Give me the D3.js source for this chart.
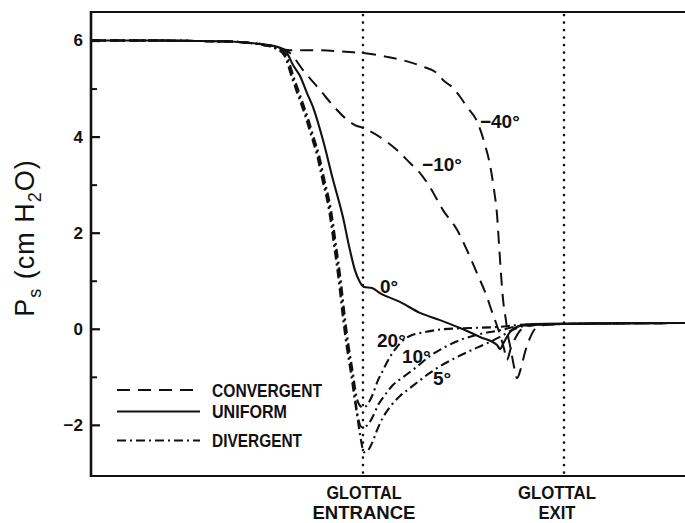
<!DOCTYPE html>
<html>
<head>
<meta charset="utf-8">
<script src="https://cdn.jsdelivr.net/npm/d3@7"></script>
<style>
  html, body { margin: 0; padding: 0; background: #fff; }
  svg { display: block; }
  text { font-family: "Liberation Sans", Arial, Helvetica, sans-serif; fill: #111; }
</style>
</head>
<body>
<svg id="chart" width="685" height="523"></svg>
<script>
// Axial position: 0 = glottal entrance, 1 = glottal exit. Pressure in cm H2O.
const majorTicks = [-2, 0, 2, 4, 6];
const minorTicks = [-1, 1, 3, 5];
const markerPositions = [0, 1];
const markerLabels = [["GLOTTAL", "ENTRANCE"], ["GLOTTAL", "EXIT"]];
const legendLabels = ["CONVERGENT", "UNIFORM", "DIVERGENT"];

// Uniform (0°)
const uniform0 = [
  [-1.353, 6.00], [-1.060, 6.00], [-0.811, 5.99], [-0.662, 5.98], [-0.562, 5.95],
  [-0.498, 5.92], [-0.413, 5.85], [-0.378, 5.74], [-0.348, 5.49], [-0.313, 5.26],
  [-0.279, 4.91], [-0.249, 4.62], [-0.199, 3.93], [-0.149, 3.10], [-0.100, 2.33],
  [-0.065, 1.64], [-0.040, 1.22], [-0.015, 0.97], [0.005, 0.87], [0.045, 0.85],
  [0.085, 0.74], [0.184, 0.56], [0.284, 0.33], [0.383, 0.18], [0.483, 0.015],
  [0.582, -0.17], [0.667, -0.34], [0.682, -0.42], [0.701, -0.28], [0.731, -0.07],
  [0.781, 0.06], [0.846, 0.10], [1.015, 0.11], [1.602, 0.12]
];

// Convergent −40°
const conv40 = [
  [-1.353, 6.00], [-1.060, 6.00], [-0.811, 5.99], [-0.662, 5.98], [-0.562, 5.95],
  [-0.498, 5.92], [-0.363, 5.80], [-0.264, 5.80], [-0.065, 5.76], [0.000, 5.74],
  [0.119, 5.66], [0.249, 5.53], [0.299, 5.455], [0.368, 5.32], [0.398, 5.18],
  [0.448, 5.01], [0.483, 4.83], [0.517, 4.62], [0.567, 4.32], [0.607, 3.83],
  [0.632, 3.41], [0.652, 2.89], [0.667, 2.37], [0.677, 1.74], [0.687, 1.12],
  [0.697, 0.60], [0.711, 0.18], [0.721, -0.13], [0.736, -0.44], [0.751, -0.78],
  [0.766, -1.03], [0.786, -0.82], [0.806, -0.49], [0.831, -0.19], [0.861, 0.015],
  [0.905, 0.08], [1.015, 0.10], [1.602, 0.12]
];

// Convergent −10°
const conv10 = [
  [-1.353, 6.00], [-1.060, 6.00], [-0.811, 5.99], [-0.662, 5.98], [-0.562, 5.95],
  [-0.498, 5.92], [-0.413, 5.85], [-0.363, 5.74], [-0.299, 5.39], [-0.214, 4.97],
  [-0.139, 4.60], [-0.090, 4.39], [-0.040, 4.24], [0.000, 4.18], [0.085, 3.99],
  [0.169, 3.72], [0.234, 3.45], [0.284, 3.24], [0.333, 2.95], [0.398, 2.47],
  [0.468, 2.06], [0.517, 1.64], [0.567, 1.16], [0.617, 0.66], [0.642, 0.35],
  [0.662, 0.12], [0.682, -0.13], [0.701, -0.40], [0.716, -0.65], [0.736, -0.40],
  [0.761, -0.17], [0.791, 0.00], [0.831, 0.06], [0.881, 0.09], [1.015, 0.10],
  [1.602, 0.12]
];

// Divergent 20°
const div20 = [
  [-1.353, 6.00], [-1.060, 6.00], [-0.811, 5.99], [-0.662, 5.98], [-0.562, 5.95],
  [-0.498, 5.91], [-0.433, 5.85], [-0.383, 5.70], [-0.343, 5.22], [-0.308, 4.80],
  [-0.274, 4.39], [-0.244, 3.97], [-0.219, 3.62], [-0.194, 3.14], [-0.159, 2.47],
  [-0.134, 1.74], [-0.109, 0.95], [-0.090, 0.24], [-0.070, -0.40], [-0.050, -0.92],
  [-0.035, -1.36], [-0.020, -1.57], [0.000, -1.64], [0.020, -1.59], [0.045, -1.40],
  [0.075, -1.07], [0.100, -0.86], [0.134, -0.59], [0.169, -0.38], [0.209, -0.21],
  [0.244, -0.13], [0.284, -0.09], [0.398, -0.01], [0.532, 0.015], [0.682, 0.04],
  [0.781, 0.08], [1.015, 0.10], [1.602, 0.12]
];

// Divergent 10°
const div10 = [
  [-1.353, 6.00], [-1.060, 6.00], [-0.811, 5.99], [-0.662, 5.98], [-0.562, 5.95],
  [-0.498, 5.91], [-0.438, 5.85], [-0.388, 5.70], [-0.348, 5.22], [-0.313, 4.80],
  [-0.279, 4.39], [-0.249, 3.97], [-0.224, 3.62], [-0.199, 3.14], [-0.164, 2.47],
  [-0.139, 1.74], [-0.114, 0.95], [-0.095, 0.24], [-0.075, -0.40], [-0.055, -0.92],
  [-0.040, -1.42], [-0.025, -1.84], [-0.005, -2.05], [0.015, -2.03], [0.045, -1.86],
  [0.075, -1.59], [0.109, -1.38], [0.149, -1.17], [0.199, -1.01], [0.259, -0.82],
  [0.333, -0.57], [0.408, -0.38], [0.483, -0.235], [0.582, -0.11], [0.682, -0.03],
  [0.781, 0.06], [1.015, 0.10], [1.602, 0.12]
];

// Divergent 5°
const div5 = [
  [-1.353, 6.00], [-1.060, 6.00], [-0.811, 5.99], [-0.662, 5.98], [-0.562, 5.95],
  [-0.498, 5.91], [-0.443, 5.85], [-0.393, 5.70], [-0.353, 5.22], [-0.318, 4.80],
  [-0.284, 4.39], [-0.254, 3.97], [-0.229, 3.62], [-0.204, 3.14], [-0.169, 2.47],
  [-0.144, 1.74], [-0.119, 0.95], [-0.100, 0.24], [-0.080, -0.40], [-0.060, -0.92],
  [-0.043, -1.42], [-0.027, -1.86], [-0.010, -2.32], [0.005, -2.57], [0.025, -2.53],
  [0.045, -2.38], [0.070, -2.11], [0.100, -1.84], [0.134, -1.63], [0.184, -1.40],
  [0.234, -1.235], [0.284, -1.07], [0.333, -0.92], [0.383, -0.78], [0.458, -0.61],
  [0.532, -0.46], [0.607, -0.32], [0.682, -0.17], [0.731, -0.05], [0.806, 0.06],
  [1.015, 0.10], [1.602, 0.12]
];

const series = [
  { name: "convergent", data: conv40 },
  { name: "convergent", data: conv10 },
  { name: "divergent", data: div20 },
  { name: "divergent", data: div10 },
  { name: "divergent", data: div5 },
  { name: "uniform", data: uniform0 }
];
const angleLabels = ["−40°", "−10°", "0°", "20°", "10°", "5°"];

// ---- layout ----
const W = 685, H = 523;
const plotLeft = 91, plotTop = 12, plotBottom = 476, plotRight = 685;

const x = d3.scaleLinear().domain([-1.353, 1.602]).range([plotLeft, plotRight]);
const y = d3.scaleLinear().domain([-3.065, 6.594]).range([plotBottom, plotTop]);

const svg = d3.select("#chart");
svg.append("rect").attr("width", W).attr("height", H).attr("fill", "#fff");

const styles = {
  convergent: { dash: "13,8", width: 2 },
  uniform: { dash: null, width: 2.1 },
  divergent: { dash: "9,4,2,4", width: 2.1 }
};

// glottal entrance / exit markers
svg.append("g").selectAll("line").data(markerPositions).join("line")
  .attr("x1", d => x(d)).attr("x2", d => x(d))
  .attr("y1", plotTop + 3).attr("y2", plotBottom)
  .attr("stroke", "#111").attr("stroke-width", 2.6)
  .attr("stroke-linecap", "round").attr("stroke-dasharray", "0.1,7.4");

// curves
const line = d3.line().x(d => x(d[0])).y(d => y(d[1])).curve(d3.curveMonotoneX);
svg.append("g").attr("fill", "none").selectAll("path").data(series).join("path")
  .attr("d", d => line(d.data))
  .attr("stroke", "#111")
  .attr("stroke-width", d => styles[d.name].width)
  .attr("stroke-dasharray", d => styles[d.name].dash)
  .attr("stroke-linejoin", "round");

// y axis with inward ticks
const yAxis = d3.axisLeft(y).tickValues(majorTicks).tickSizeInner(-9).tickSizeOuter(0)
  .tickPadding(8).tickFormat(d3.format("d"));
const gy = svg.append("g").attr("transform", `translate(${plotLeft},0)`).call(yAxis);
gy.select(".domain").remove();
gy.selectAll(".tick line").attr("stroke", "#111").attr("stroke-width", 2.2);
gy.selectAll(".tick text").attr("font-size", 17).attr("font-weight", "bold")
  .attr("font-family", "'Liberation Sans', Arial, sans-serif").attr("fill", "#111");
const yMinor = d3.axisLeft(y).tickValues(minorTicks).tickSizeInner(-6).tickSizeOuter(0).tickFormat("");
const gm = svg.append("g").attr("transform", `translate(${plotLeft},0)`).call(yMinor);
gm.select(".domain").remove();
gm.selectAll(".tick line").attr("stroke", "#111").attr("stroke-width", 2);

// frame: left, top and bottom rules
svg.append("line").attr("x1", plotLeft).attr("x2", plotLeft).attr("y1", plotTop - 1).attr("y2", plotBottom + 1)
  .attr("stroke", "#111").attr("stroke-width", 2.6);
svg.append("line").attr("x1", plotLeft).attr("x2", plotRight).attr("y1", plotTop).attr("y2", plotTop)
  .attr("stroke", "#111").attr("stroke-width", 2.2);
svg.append("line").attr("x1", plotLeft).attr("x2", plotRight).attr("y1", plotBottom).attr("y2", plotBottom)
  .attr("stroke", "#111").attr("stroke-width", 2.2);

// y axis title: P_s (cm H_2O)
const yt = svg.append("text")
  .attr("transform", "translate(34,238) rotate(-90)")
  .attr("text-anchor", "middle").attr("font-size", 27).attr("letter-spacing", 1);
yt.append("tspan").text("P");
yt.append("tspan").attr("font-size", 18).attr("dy", 7).text("s");
yt.append("tspan").attr("dy", -7).text(" (cm H");
yt.append("tspan").attr("font-size", 18).attr("dy", 7).text("2");
yt.append("tspan").attr("dy", -7).text("O)");

// marker captions below the axis
const capWidths = [[75, 103], [78, 37]];
const capCenters = [364, 557];
markerLabels.forEach((lines, i) => {
  lines.forEach((t, j) => {
    svg.append("text")
      .attr("x", capCenters[i] - capWidths[i][j] / 2)
      .attr("y", 499.3 + j * 19.7)
      .attr("font-size", 17.5).attr("font-weight", "bold")
      .attr("textLength", capWidths[i][j]).attr("lengthAdjust", "spacingAndGlyphs")
      .text(t);
  });
});

// angle labels
const labelAnchors = [[0.582, 4.18], [0.294, 3.28], [0.085, 0.74], [0.070, -0.38], [0.194, -0.71], [0.348, -1.17]];
svg.append("g").selectAll("text").data(angleLabels).join("text")
  .attr("x", (d, i) => x(labelAnchors[i][0]))
  .attr("y", (d, i) => y(labelAnchors[i][1]))
  .attr("font-size", 19).attr("font-weight", "bold")
  .text(d => d);

// legend
const legendKeys = ["convergent", "uniform", "divergent"];
const legendY = [390, 411.5, 440.5];
const legendW = [110, 75, 90];
const lg = svg.append("g");
legendKeys.forEach((k, i) => {
  lg.append("line").attr("x1", 117).attr("x2", 200)
    .attr("y1", legendY[i]).attr("y2", legendY[i])
    .attr("stroke", "#111").attr("stroke-width", styles[k].width)
    .attr("stroke-dasharray", styles[k].dash);
  lg.append("text").attr("x", 212).attr("y", legendY[i] + 6.5)
    .attr("font-size", 18).attr("font-weight", "bold")
    .attr("textLength", legendW[i]).attr("lengthAdjust", "spacingAndGlyphs")
    .text(legendLabels[i]);
});
</script>
</body>
</html>
